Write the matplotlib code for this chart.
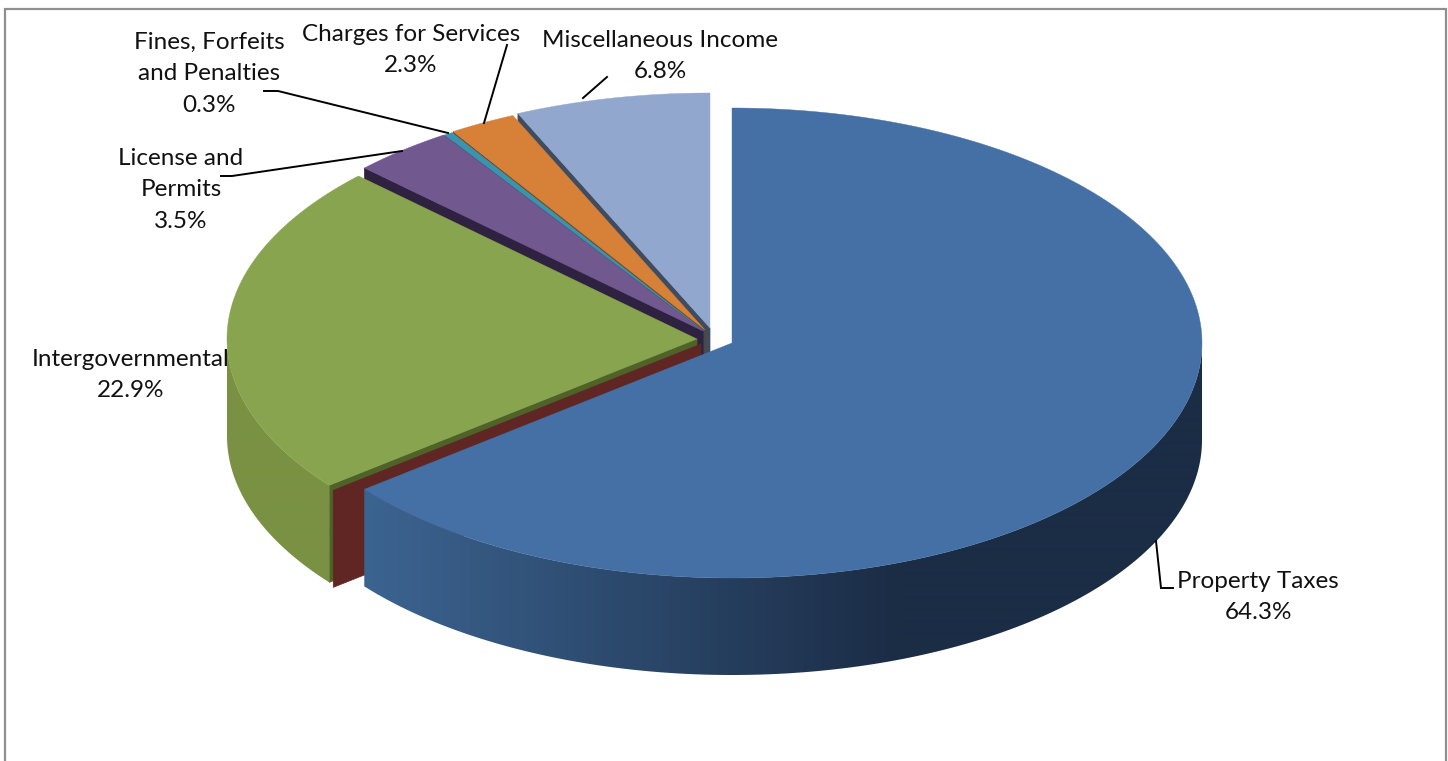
import numpy as np
import matplotlib
matplotlib.use("Agg")
import matplotlib.pyplot as plt
from matplotlib.colors import to_rgb
from matplotlib.patches import Polygon, Rectangle

plt.rcParams['font.family'] = ['Lato', 'DejaVu Sans']

# the empty second slice has no label but its cut face still shows
names = ["Property Taxes", "", "Intergovernmental", "License and\nPermits",
         "Fines, Forfeits\nand Penalties", "Charges for Services", "Miscellaneous Income"]
values = [64.3, 0.0, 22.9, 3.5, 0.3, 2.3, 6.8]

top_colors = ["#4470a5", "#8e3a38", "#88a44e", "#71588f", "#3b93ad", "#d68038", "#92a7cd"]
cut_colors = ["#1b2c45", "#5f2624", "#4f6228", "#2f2140", "#1f4d5c", "#6f4320", "#3f4b5e"]
rim_left = ["#3c6491", "#5f2624", "#7a9143", "#5b4674", "#30788e", "#b06a2e", "#7a8bab"]
rim_right = ["#1b2c45", "#5f2624", "#7a9143", "#5b4674", "#30788e", "#b06a2e", "#7a8bab"]

# pie geometry in pixels
rx = 470
ry = 235
depth = 97
centers = [(732, 343), (701, 344), (697, 339), (703, 331), (704, 331), (705, 330), (710, 328)]

# text centre, the block is centred on this point
label_pos = [(1258, 597), None, (131, 375), (181, 190), (209, 74), (411, 50), (660, 56)]
leaders = [[(1156, 541), (1161, 588), (1173, 588)], None, None,
           [(221, 176), (232, 176), (402, 151)],
           [(264, 91), (278, 91), (448, 133)],
           [(507, 45), (484, 123)],
           [(607, 77), (583, 98)]]


def rim_point(center, deg):
    a = np.radians(deg)
    return center[0] + rx * np.sin(a), center[1] - ry * np.cos(a)


def mix(c1, c2, t):
    return np.array(to_rgb(c1)) * (1 - t) + np.array(to_rgb(c2)) * t


def draw_slice(ax, i, a0, a1, z):
    c = centers[i]
    # cut face along the starting edge
    x0, y0 = rim_point(c, a0)
    cut = [(c[0], c[1]), (x0, y0), (x0, y0 + depth), (c[0], c[1] + depth)]
    ax.add_patch(Polygon(cut, closed=True, fc=cut_colors[i], ec=cut_colors[i], lw=0.5, zorder=z))

    # outer rim only shows on the near half of the ellipse
    lo = max(a0, 90)
    hi = min(a1, 270)
    if hi > lo:
        angles = np.linspace(lo, hi, 300)
        upper = [rim_point(c, d) for d in angles]
        lower = [(p[0], p[1] + depth) for p in upper[::-1]]
        shape = Polygon(upper + lower, closed=True, fc="none", ec="none", zorder=z + 1,
                        transform=ax.transData)
        ax.add_patch(shape)
        xs = np.linspace(0, 1448, 1448)
        t = np.interp(xs, [365, 900], [0, 1])
        grad = np.array([mix(rim_left[i], rim_right[i], v) for v in t]).reshape(1, -1, 3)
        im = ax.imshow(grad, extent=(0, 1448, 761, 0), aspect="auto", zorder=z + 1,
                       interpolation="bilinear")
        im.set_clip_path(shape)

    # top surface
    if a1 > a0:
        arc = [rim_point(c, d) for d in np.linspace(a0, a1, 240)]
        ax.add_patch(Polygon([c] + arc, closed=True, fc=top_colors[i], ec=top_colors[i],
                             lw=0.3, zorder=z + 2))


fig = plt.figure(figsize=(14.48, 7.61), dpi=100)
ax = fig.add_axes([0, 0, 1, 1])
ax.axis("off")

ax.add_patch(Rectangle((4.5, 8.5), 1441, 780, fc="white", ec="#8f8f8f", lw=1.6, zorder=1))

edges = np.minimum(np.cumsum([0] + values) * 3.6, 360)
# back slices first so the nearer ones cover their faces
z = 2
for i in range(len(values) - 1, -1, -1):
    draw_slice(ax, i, edges[i], edges[i + 1], z)
    z += 3

for i in range(len(values)):
    if leaders[i] is not None:
        xs = [p[0] for p in leaders[i]]
        ys = [p[1] for p in leaders[i]]
        ax.plot(xs, ys, color="black", lw=1.4, solid_joinstyle="miter", zorder=z)
    if label_pos[i] is not None:
        txt = "%s\n%.1f%%" % (names[i], values[i])
        ax.text(label_pos[i][0], label_pos[i][1], txt, ha="center", va="center",
                multialignment="center", fontsize=17.5, color="#111111", linespacing=1.6,
                zorder=z + 1)

ax.set_xlim(0, 1448)
ax.set_ylim(761, 0)
fig.savefig("out.png", dpi=100)
